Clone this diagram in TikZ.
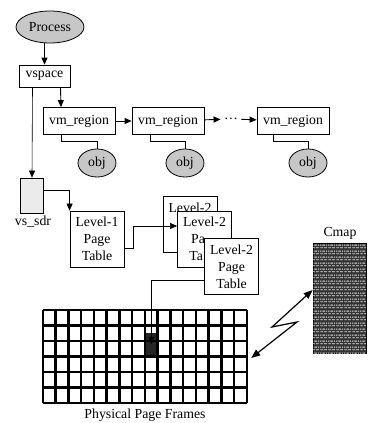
\documentclass[tikz,border=0pt]{standalone}
\usepackage{fontspec}
\setmainfont{Liberation Serif}
\usepackage{tikz}
\usetikzlibrary{arrows.meta, positioning, shapes.geometric, patterns}

\pgfdeclarepatternformonly{tinybricks}{\pgfpointorigin}{\pgfpoint{8pt}{6pt}}{\pgfpoint{8pt}{6pt}}{
    \pgfsetlinewidth{1pt}
    \pgfpathmoveto{\pgfpoint{0.5pt}{1.5pt}}\pgfpathlineto{\pgfpoint{3.5pt}{1.5pt}}
    \pgfpathmoveto{\pgfpoint{4.5pt}{1.5pt}}\pgfpathlineto{\pgfpoint{7.5pt}{1.5pt}}
    \pgfpathmoveto{\pgfpoint{2.5pt}{4.5pt}}\pgfpathlineto{\pgfpoint{5.5pt}{4.5pt}}
    \pgfpathmoveto{\pgfpoint{6.5pt}{4.5pt}}\pgfpathlineto{\pgfpoint{8pt}{4.5pt}}
    \pgfpathmoveto{\pgfpoint{0pt}{4.5pt}}\pgfpathlineto{\pgfpoint{1.5pt}{4.5pt}}
    \pgfusepath{stroke}
}

\begin{document}
\begin{tikzpicture}[x=1pt, y=-1pt,
    every node/.style={font=\fontsize{13.8}{17}\selectfont},
    box/.style={draw, rectangle, line width=0.8pt, fill=white, inner sep=2pt},
    tablebox/.style={box, minimum width=54pt, minimum height=56pt, align=center},
    blob/.style={draw, ellipse, line width=0.8pt, fill=black!22, inner sep=1pt},
    link/.style={-{Triangle[length=7pt, width=6pt]}, line width=0.9pt},
    wire/.style={line width=0.8pt},
    cellline/.style={line width=2.6pt}]
    \useasboundingbox (0,0) rectangle (367,423);

    % Objects
    \node[blob, minimum width=68pt, minimum height=32pt] (process) at (50,27) {Process};
    \node[box, minimum width=51pt, minimum height=22pt] (vspace) at (44.5,76) {vspace};
    \node[box, minimum width=72pt, minimum height=27pt] (region1) at (79,121) {vm\_region};
    \node[box, minimum width=72pt, minimum height=27pt] (region2) at (168,121) {vm\_region};
    \node (dots) at (231,119) {\dots};
    \node[box, minimum width=72pt, minimum height=27pt] (region3) at (293,121) {vm\_region};
    \node[blob, minimum width=38pt, minimum height=28pt] (obj1) at (97,163) {obj};
    \node[blob, minimum width=38pt, minimum height=28pt] (obj2) at (185,163) {obj};
    \node[blob, minimum width=38pt, minimum height=28pt] (obj3) at (308,163) {obj};
    \node[draw, line width=0.8pt, fill=black!8, minimum width=23pt, minimum height=35pt] (sdr) at (32,195.5) {};
    \node (sdrlabel) at (33,222) {vs\_sdr};

    % Page tables (stacked, back ones partly hidden)
    \node[tablebox] (level1) at (97,239) {Level-1\\Page\\Table};
    \node[tablebox] (level2a) at (190,224.5) {Level-2\\\phantom{Page}\\\phantom{Table}};
    \node[tablebox] (level2b) at (204.5,239) {Level-2\\Pa\phantom{ge}\\Ta\phantom{ble}};
    \node[tablebox] (level2c) at (231.5,266.5) {Level-2\\Page\\Table};

    % Cmap and frames
    \node[draw, line width=0.8pt, fill=black!80, postaction={pattern=tinybricks, pattern color=black!12},
          minimum width=53pt, minimum height=110pt] (cmap) at (339.5,298) {};
    \node (cmaplabel) at (340,233) {Cmap};
    \node[minimum width=204pt, minimum height=93pt, inner sep=0pt] (frames) at (145,356.5) {};
    \fill[black!85] (145,333) rectangle (157.75,358);
    \foreach \i in {0,...,16}
        \draw[cellline] ([xshift=\i*12.75pt]frames.north west) -- ([xshift=\i*12.75pt]frames.south west);
    \foreach \j in {0,...,6}
        \draw[cellline] ([yshift=-\j*15.5pt]frames.north west) -- ([yshift=-\j*15.5pt]frames.north east);
    \coordinate (hit) at (151.4,344);
    \node (frameslabel) at (145,415) {Physical Page Frames};

    % Arrows
    \draw[link] (vspace.north |- process.south) -- (vspace.north);
    \draw[link] ([xshift=16pt]vspace.south) -- ([xshift=-18pt]region1.north);
    \draw[link, line width=0.6pt] ([xshift=-12pt]vspace.south) -- (sdr.north);
    \draw[link] (region1) -- (region2);
    \draw[link] (region2) -- (dots);
    \draw[link] (dots) -- (region3);
    \draw[wire] ([xshift=-18pt]region1.south) -- ++(0,6) -| (obj1.north);
    \draw[wire] ([xshift=-18pt]region2.south) -- ++(0,6) -| (obj2.north);
    \draw[wire] ([xshift=-20pt]region3.south) -- ++(0,6) -| (obj3.north);
    \draw[link, line width=0.6pt] ([yshift=5pt]sdr.east) -| (level1.north west);
    \draw[link, line width=0.6pt] ([yshift=-9pt]level1.east) -- ++(9,0) |- ([yshift=13pt]level2b.west);
    \draw[link, line width=0.6pt] ([yshift=-13.5pt]level2c.west) -| (hit);
    \draw[{Triangle[length=9pt, width=7pt]}-{Triangle[length=9pt, width=7pt]}, line width=1.2pt]
        ([xshift=4pt, yshift=-1.5pt]frames.east) -- (297,322) -- (272,327) -- ([yshift=8pt]cmap.west);
\end{tikzpicture}
\end{document}
